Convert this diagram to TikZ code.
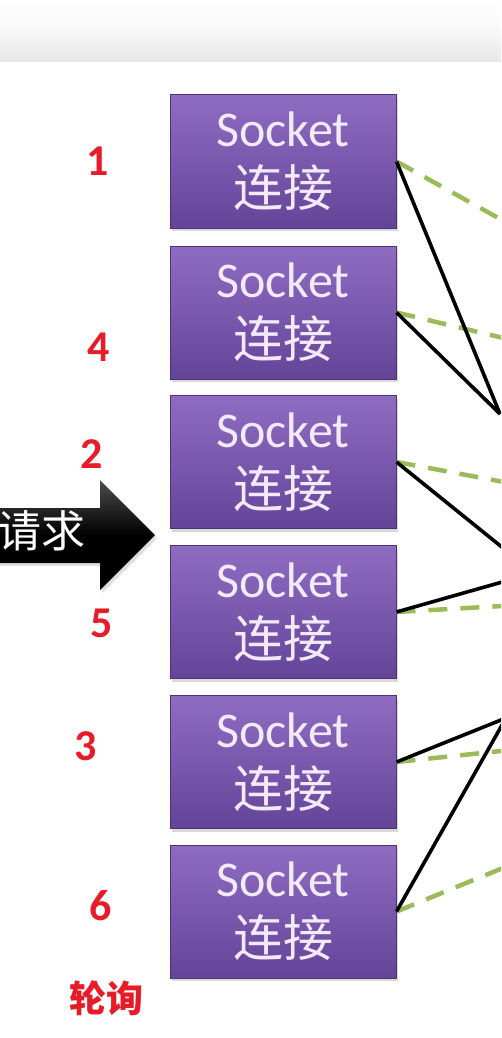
\documentclass[tikz,border=0pt]{standalone}
\usepackage{fontspec}
\setmainfont{Carlito}
\newfontfamily\cjk{Noto Sans CJK SC}
\usetikzlibrary{shadows}
\definecolor{socktop}{RGB}{142,108,194}
\definecolor{sockbottom}{RGB}{100,68,152}
\definecolor{sockedge}{RGB}{78,50,118}
\definecolor{sockfont}{RGB}{242,234,250}
\definecolor{pollred}{RGB}{232,28,40}
\definecolor{dashgreen}{RGB}{155,187,89}
\definecolor{barshade}{RGB}{231,231,231}

\begin{document}
\begin{tikzpicture}[x=1pt, y=-1pt,
    sockbox/.style={draw=sockedge, line width=1pt, top color=socktop, bottom color=sockbottom,
        minimum width=226pt, minimum height=133pt, inner sep=0pt, align=center, text=sockfont,
        font=\fontsize{50}{60}\selectfont,
        drop shadow={opacity=0.3, shadow xshift=2pt, shadow yshift=-3pt}},
    order/.style={text=pollred, font=\fontsize{44}{44}\selectfont\bfseries},
    link/.style={line width=3.6pt, black},
    poll/.style={line width=4.5pt, dashgreen, dash pattern=on 19pt off 13pt}]
        \useasboundingbox (0,0) rectangle (501,1038);
        \clip (0,0) rectangle (501,1038);

        % title bar
        \shade[top color=white, bottom color=barshade, middle color=white!97!black] (0,0) rectangle (501,62);

        % request arrow
        \shade[top color=black!70, bottom color=black, middle color=black,
            drop shadow={opacity=0.25, shadow xshift=2pt, shadow yshift=-3pt}]
            (-20,508) -- (100,508) -- (100,480) -- (155,535) -- (100,590) -- (100,563) -- (-20,563) -- cycle;
        \node[text=white, font=\cjk\fontsize{44}{44}\selectfont] (req) at (42,531) {请求};

        % socket boxes
        \foreach \i/\y in {1/161.5,2/312.5,3/462,4/612,5/762,6/911.5} {
            \node[sockbox] (s\i) at (283,\y) {Socket\\{\cjk 连接}};
        }

        % polling order
        \foreach \n/\x/\y in {1/98/161,4/99/347,2/92/454,5/102/623,3/86/746,6/101/906} {
            \node[order] (n\n) at (\x,\y) {\n};
        }
        \node[text=pollred, font=\cjk\fontsize{37}{37}\selectfont\bfseries] (poll) at (106,998) {轮询};

        % free ends on the right
        \coordinate (h1) at (500,414);
        \coordinate (h2) at (534,573);
        \coordinate (h3) at (506,718);
        \foreach \i/\y in {1/230,2/342,3/485,4/605,5/749,6/861} {
            \coordinate (g\i) at (520,\y);
        }

        \foreach \i in {1,...,6} {
            \draw[poll] (s\i.east) -- (g\i);
        }
        \draw[link] (s1.east) -- (h1);
        \draw[link] (s2.east) -- (h1);
        \draw[link] (s3.east) -- (h2);
        \draw[link] (s4.east) -- (h2);
        \draw[link] (s5.east) -- (h3);
        \draw[link] (s6.east) -- (h3);
    \end{tikzpicture}
\end{document}
